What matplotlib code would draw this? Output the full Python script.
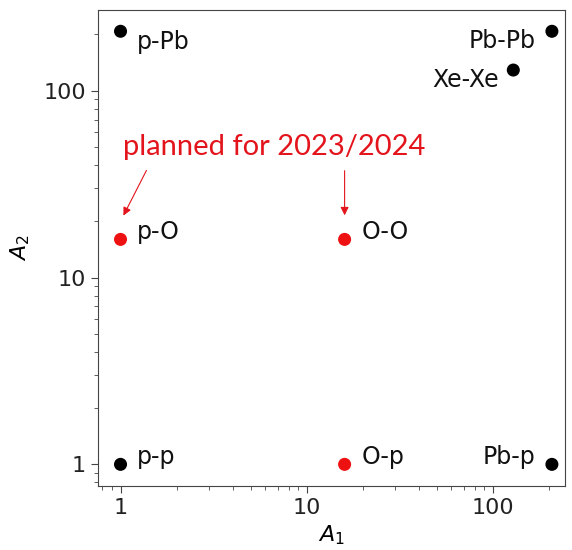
import matplotlib
matplotlib.use("Agg")
import matplotlib.pyplot as plt

# collision systems (A1, A2)
names = ["p-p", "p-O", "p-Pb", "O-p", "O-O", "Xe-Xe", "Pb-p", "Pb-Pb"]
a1 = [1, 1, 1, 16, 16, 129, 208, 208]
a2 = [1, 16, 208, 1, 16, 129, 1, 208]
planned = [False, True, False, True, True, False, False, False]

# label offsets in points
offs = [(12, 5), (12, 5), (12, -8), (12, 5), (12, 5), (-10, -7), (-12, 5), (-12, -7)]

fig = plt.figure(figsize=(5.72, 5.5), dpi=100)
ax = fig.add_axes([0.171, 0.1164, 0.817, 0.8663])

cols = ["#ee1111" if p else "black" for p in planned]
ax.scatter(a1, a2, s=70, c=cols, zorder=3)

for n, x, y, (dx, dy) in zip(names, a1, a2, offs):
    ha = "left" if dx > 0 else "right"
    ax.annotate(n, (x, y), xytext=(dx, dy), textcoords="offset points",
                ha=ha, va="center", fontsize=17, color="#111111")

ax.set_xscale("log")
ax.set_yscale("log")
ax.set_xlim(0.755, 245)
ax.set_ylim(0.766, 272)
ax.set_xticks([1, 10, 100])
ax.set_xticklabels(["1", "10", "100"])
ax.set_yticks([1, 10, 100])
ax.set_yticklabels(["1", "10", "100"])
ax.tick_params(labelsize=16, length=5, color="#444444", labelcolor="#222222")
ax.tick_params(which="minor", length=3, color="#444444")
for sp in ax.spines.values():
    sp.set_color("#444444")

ax.set_xlabel("$A_1$", fontsize=16, labelpad=4)
ax.set_ylabel("$A_2$", fontsize=16, labelpad=8)

red = "#e3141c"
ax.text(1.03, 50, "planned for 2023/2024", color=red, fontsize=21,
        family=["Lato", "DejaVu Sans"], va="center", ha="left")
arr = dict(arrowstyle="-|>", color=red, lw=0.8, mutation_scale=12)
ax.annotate("", xy=(1.02, 20.8), xytext=(1.40, 38.6), arrowprops=arr)
ax.annotate("", xy=(16, 20.8), xytext=(16, 38.6), arrowprops=arr)

fig.savefig("out.png", dpi=100)
